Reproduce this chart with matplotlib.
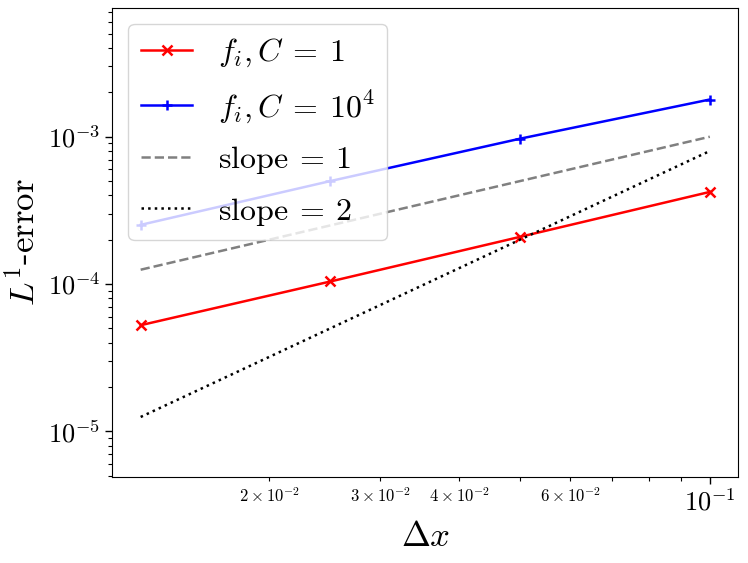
import matplotlib
matplotlib.use('Agg')
import matplotlib.pyplot as plt

plt.rcParams['font.family'] = 'serif'
plt.rcParams['font.serif'] = ['cmr10']
plt.rcParams['mathtext.fontset'] = 'cm'
plt.rcParams['axes.formatter.use_mathtext'] = True

# grid sizes and errors
dx = [0.0125, 0.025, 0.05, 0.1]
err_c1 = [5.25e-5, 1.04e-4, 2.09e-4, 4.22e-4]
err_c1e4 = [2.52e-4, 5.0e-4, 9.7e-4, 1.79e-3]
ref_slope1 = [1.25e-4, 2.5e-4, 5.0e-4, 1.0e-3]
ref_slope2 = [1.25e-5, 5.0e-5, 2.0e-4, 8.0e-4]

fig = plt.figure(figsize=(7.48, 5.63), dpi=100)
ax = fig.add_axes([0.150, 0.153, 0.837, 0.833])

ax.loglog(dx, err_c1, marker='x', color='red', lw=1.8, ms=7, mew=1.8, label=r'$f_i, C\:=\:1$')
ax.loglog(dx, err_c1e4, marker='+', color='blue', lw=1.8, ms=7, mew=1.8, label=r'$f_i, C\:=\:10^4$')
ax.loglog(dx, ref_slope1, '--', color='gray', lw=1.8, label=r'$\mathrm{slope}\:=\:1$')
ax.loglog(dx, ref_slope2, ':', color='black', lw=1.8, label=r'$\mathrm{slope}\:=\:2$')

ax.set_ylim(4.9e-6, 7.5e-3)
ax.set_xlabel(r'$\Delta x$', fontsize=25)
ax.set_ylabel(r'$L^1\text{-error}$', fontsize=25)
ax.tick_params(which='major', labelsize=19, length=5, width=1)
ax.tick_params(which='minor', labelsize=12, length=3, width=0.8)
ax.legend(loc='upper left', fontsize=23, handlelength=1.6, labelspacing=0.6)

fig.savefig('out.png', dpi=100)
